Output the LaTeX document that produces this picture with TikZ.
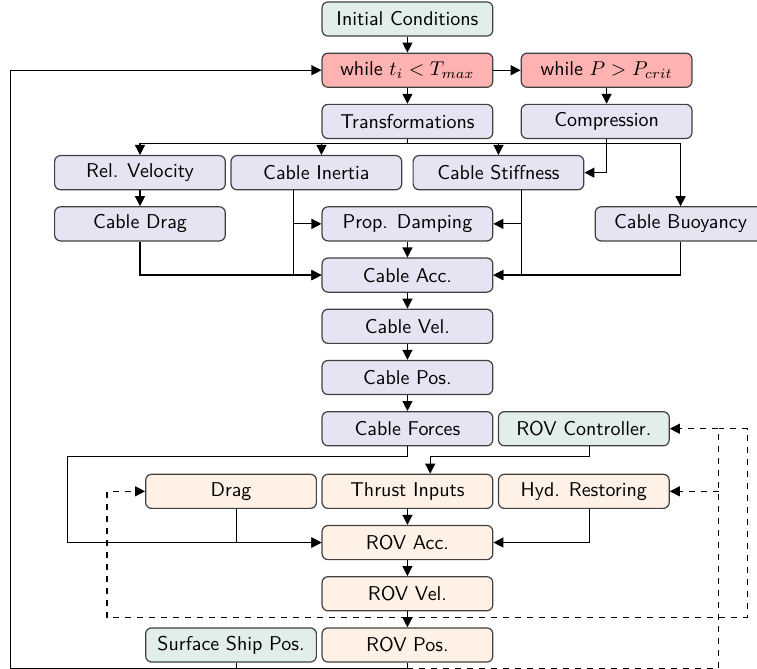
\documentclass[tikz,border=0pt]{standalone}
\usepackage{tikz}
\usetikzlibrary{arrows.meta,positioning}

\definecolor{startfill}{RGB}{226,239,233}
\definecolor{loopfill}{RGB}{255,178,178}
\definecolor{cablefill}{RGB}{228,228,243}
\definecolor{rovfill}{RGB}{255,241,230}

\begin{document}
\begin{tikzpicture}[node distance=0.9cm, on grid, >={Triangle[length=5pt,width=5pt]}, semithick,
        block/.style={draw=black!75, rounded corners=3pt, minimum width=3cm, minimum height=0.6cm, font=\sffamily},
        inbox/.style={block, fill=startfill},
        loopbox/.style={block, fill=loopfill},
        cablebox/.style={block, fill=cablefill},
        rovbox/.style={block, fill=rovfill}]
        \useasboundingbox (-7.16,0.334) rectangle (6.143,-11.406);

        \node[inbox] (init) {Initial Conditions};
        \node[loopbox, below=of init] (whileT) {while $t_i < T_{max}$};
        \node[loopbox, right=3.5cm of whileT] (whileP) {while $P > P_{crit}$};
        \node[cablebox, below=of whileT] (trans) {Transformations};
        \node[cablebox, below=of whileP] (comp) {Compression};

        \node[cablebox, below left=0.9cm and 1.6cm of trans] (inertia) {Cable Inertia};
        \node[cablebox, left=3.1cm of inertia] (relvel) {Rel. Velocity};
        \node[cablebox, below right=0.9cm and 1.6cm of trans] (stiff) {Cable Stiffness};
        \node[cablebox, below=of relvel] (cdrag) {Cable Drag};
        \node[cablebox, below=1.8cm of trans] (damp) {Prop. Damping};
        \node[cablebox, below right=0.9cm and 3.2cm of stiff] (buoy) {Cable Buoyancy};

        \node[cablebox, below=of damp] (cacc) {Cable Acc.};
        \node[cablebox, below=of cacc] (cvel) {Cable Vel.};
        \node[cablebox, below=of cvel] (cpos) {Cable Pos.};
        \node[cablebox, below=of cpos] (cforce) {Cable Forces};
        \node[inbox, right=3.1cm of cforce] (ctrl) {ROV Controller.};

        \node[rovbox, below=1.1cm of cforce] (thrust) {Thrust Inputs};
        \node[rovbox, left=3.1cm of thrust] (rdrag) {Drag};
        \node[rovbox, right=3.1cm of thrust] (hyd) {Hyd. Restoring};
        \node[rovbox, below=of thrust] (racc) {ROV Acc.};
        \node[rovbox, below=of racc] (rvel) {ROV Vel.};
        \node[rovbox, below=of rvel] (rpos) {ROV Pos.};
        \node[inbox, left=3.1cm of rpos] (ship) {Surface Ship Pos.};

        \path[->] (init) edge (whileT);
        \path[->] (whileT) edge (whileP);
        \path[->] (whileT) edge (trans);
        \path[->] (whileP) edge (comp);

        % split under the transformations
        \coordinate[below=0.08cm of trans.south] (bus);
        \draw (trans.south) -- (bus);
        \draw[->] (bus) -| (relvel.north);
        \draw[->] (bus) -| (inertia.north -| damp.west);
        \draw[->] (bus) -| (stiff.north);
        \draw[->] (bus) -| (buoy.north);
        \draw[->] (comp.south) |- (stiff.east);

        \path[->] (relvel) edge (cdrag);
        \draw[->] ([xshift=-0.4cm]inertia.south) |- (damp.west);
        \draw[->] ([xshift=-0.4cm]inertia.south) |- (cacc.west);
        \draw[->] (cdrag.south) |- (cacc.west);
        \draw[->] ([xshift=0.4cm]stiff.south) |- (damp.east);
        \draw[->] ([xshift=0.4cm]stiff.south) |- (cacc.east);
        \draw[->] (buoy.south) |- (cacc.east);
        \path[->] (damp) edge (cacc);
        \path[->] (cacc) edge (cvel);
        \path[->] (cvel) edge (cpos);
        \path[->] (cpos) edge (cforce);

        % rov part
        \coordinate[below=0.18cm of cforce.south] (ftap);
        \coordinate (fleft) at (-5.97,0);
        \draw[->] (cforce.south) -- (ftap) -| (fleft |- racc.west) -- (racc.west);
        \draw[->] ([xshift=0.1cm]rdrag.south) |- (racc.west);
        \draw[->] ([xshift=0.1cm]ctrl.south) -- ++(0,-0.18) -| ([xshift=0.4cm]thrust.north);
        \draw[->] ([xshift=0.1cm]hyd.south) |- (racc.east);
        \path[->] (thrust) edge (racc);
        \path[->] (racc) edge (rvel);
        \path[->] (rvel) edge (rpos);

        % back to the time loop
        \coordinate[below=0.1cm of rpos.south] (ptap);
        \coordinate (lft) at (-6.97,0);
        \draw[->] (rpos.south) -- (ptap) -| (lft |- whileT.west) -- (whileT.west);
        \draw ([xshift=0.1cm]ship.south) -- ([xshift=0.1cm]ship.south |- ptap);

        % feedback of states
        \coordinate[below=0.1cm of rvel.south] (vtap);
        \coordinate (dleft) at (-5.28,0);
        \coordinate (dright) at (5.98,0);
        \coordinate (dmid) at (5.47,0);
        \draw[->, dashed] (vtap) -| (dleft |- rdrag.west) -- (rdrag.west);
        \draw[dashed] (vtap) -| (dright |- ctrl.east) -- (dmid |- ctrl.east);
        \draw[->, dashed] (ptap) -| (dmid |- ctrl.east) -- (ctrl.east);
        \draw[->, dashed] (dmid |- hyd.east) -- (hyd.east);
    \end{tikzpicture}
\end{document}
